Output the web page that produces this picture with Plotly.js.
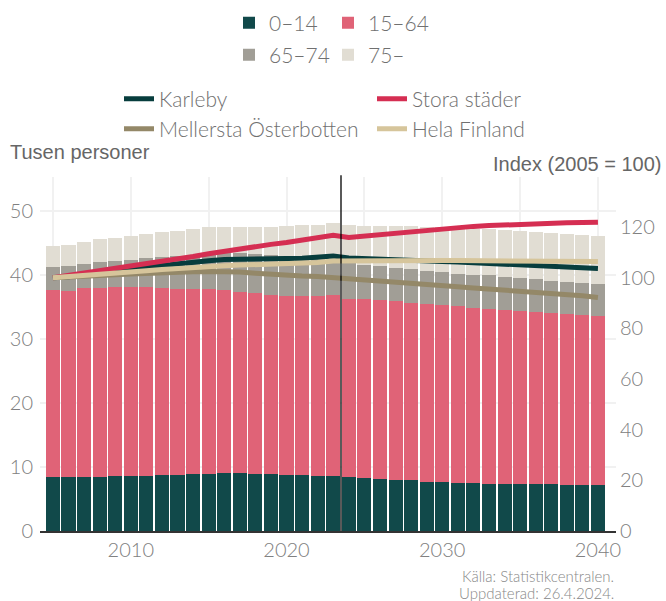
<!DOCTYPE html>
<html>
<head>
<meta charset="utf-8">
<script src="https://cdn.plot.ly/plotly-3.0.1.min.js"></script>
<style>html,body{margin:0;padding:0;background:#fff;}#chart{width:666px;height:601px;}</style>
</head>
<body>
<div id="chart"></div>
<script>
const years = [2005,2006,2007,2008,2009,2010,2011,2012,2013,2014,2015,2016,2017,2018,2019,2020,2021,2022,2023,2024,2025,2026,2027,2028,2029,2030,2031,2032,2033,2034,2035,2036,2037,2038,2039,2040];

// Population by age group, thousands
const age0_14 = [8.46,8.46,8.46,8.46,8.62,8.62,8.62,8.78,8.78,8.93,8.93,9.09,9.09,8.93,8.93,8.78,8.78,8.62,8.62,8.46,8.31,8.15,7.99,7.99,7.68,7.68,7.52,7.52,7.37,7.37,7.37,7.37,7.37,7.21,7.21,7.21];
const age15_64 = [29.24,29.04,29.54,29.54,29.48,29.48,29.48,29.22,29.02,28.87,28.87,28.61,28.31,28.27,27.97,27.92,27.92,28.08,28.28,27.84,27.99,27.95,27.91,27.61,27.82,27.62,27.68,27.28,27.33,27.13,27.03,26.83,26.73,26.69,26.54,26.39];
const age65_74 = [3.6,3.9,3.7,4.0,4.1,4.2,4.6,4.8,5.2,5.3,5.5,5.7,6.1,6.1,6.2,6.2,6.0,5.9,5.5,5.6,5.3,5.25,5.2,5.3,5.1,5.2,5.0,5.2,5.3,5.2,5.1,5.2,5.0,5.0,5.0,5.0];
const age75 = [3.2,3.3,3.5,3.6,3.6,3.8,3.7,3.9,3.9,4.1,4.2,4.1,4.0,4.2,4.4,4.8,5.1,5.2,5.7,5.9,6.1,6.35,6.6,6.8,6.9,7.0,7.1,7.2,7.2,7.3,7.4,7.3,7.5,7.5,7.55,7.5];

// Index (2005 = 100)
const karleby = [100,100.4,101.4,102.3,102.9,103.6,104.3,104.9,105.5,106.1,106.7,107.2,107.4,107.5,107.5,107.6,107.7,108.0,108.6,107.8,107.5,107.2,107.0,106.8,106.6,106.4,106.2,105.9,105.6,105.3,105.0,104.7,104.4,104.2,104.0,103.7];
const storaStader = [100,100.9,101.8,102.7,103.6,104.5,105.5,106.5,107.4,108.4,109.5,110.5,111.6,112.5,113.2,113.9,114.8,116.0,116.8,115.9,116.5,117.1,117.7,118.3,118.8,119.3,119.8,120.3,120.6,120.9,121.2,121.4,121.6,121.7,121.8,121.9];
const mellersta = [100,100.2,100.5,100.9,101.2,101.5,101.8,102.0,102.2,102.4,102.5,102.5,102.3,101.8,101.3,100.9,100.7,100.5,100.1,99.3,98.9,98.5,98.1,97.7,97.3,96.9,96.5,96.0,95.6,95.2,94.7,94.3,93.8,93.4,92.9,92.2];
const helaFinland = [100,100.4,100.9,101.4,101.9,102.3,102.8,103.3,103.8,104.1,104.4,104.8,105.0,105.2,105.3,105.4,105.6,106.0,106.6,106.7,106.8,106.8,106.8,106.8,106.8,106.8,106.8,106.8,106.8,106.7,106.7,106.6,106.6,106.5,106.5,106.4];

const barNames = ['0–14','15–64','65–74','75–'];
const lineNames = ['Karleby','Stora städer','Mellersta Österbotten','Hela Finland'];
const projectionStart = 2023.5;

const barColors = ['#11494a','#e06377','#a19e96','#e1ddd3'];
const lineColors = ['#073d3d','#d52e52','#948868','#d6c59b'];
const barLegends = ['legend','legend2','legend3','legend4'];
const lineLegends = ['legend5','legend6','legend7','legend8'];

const barSeries = [age0_14, age15_64, age65_74, age75];
const lineSeries = [karleby, storaStader, mellersta, helaFinland];

const traces = [];
barSeries.forEach((s,i)=>{
  traces.push({type:'bar', x:years, y:s, name:barNames[i], marker:{color:barColors[i], line:{width:0}}, legend:barLegends[i], hoverinfo:'skip'});
});
lineSeries.forEach((s,i)=>{
  traces.push({type:'scatter', mode:'lines', x:years, y:s, yaxis:'y2', name:lineNames[i], line:{color:lineColors[i], width:5}, legend:lineLegends[i], hoverinfo:'skip'});
});

const FONT = 'Lato, "Open Sans", sans-serif';
function leg(xpx, ypx){
  return {orientation:'h', xref:'container', yref:'container', xanchor:'left', yanchor:'middle', traceorder:'normal',
    x:xpx/666, y:1-ypx/601, font:{family:FONT, size:21, color:'#707070', weight:300}, bgcolor:'rgba(0,0,0,0)', borderwidth:0};
}
const tickFont = {family:FONT, size:20, color:'#808080', weight:300};

const layout = {
  width:666, height:601,
  margin:{l:40, r:50, t:177, b:70},
  paper_bgcolor:'#fff', plot_bgcolor:'#fff',
  barmode:'stack', bargap:0.1,
  showlegend:true,
  legend: leg(229, 23),
  legend2: leg(328, 23),
  legend3: leg(229, 55),
  legend4: leg(328, 55),
  legend5: leg(119, 99),
  legend6: leg(372, 99),
  legend7: leg(119, 129),
  legend8: leg(372, 129),
  xaxis:{range:[2004.17, 2041.16], tick0:2000, dtick:10, showgrid:true, gridcolor:'#f1f1f1', gridwidth:2,
    minor:{dtick:5, tick0:2000, showgrid:true, gridcolor:'#f1f1f1', gridwidth:2},
    showline:true, linecolor:'#333', linewidth:2, ticks:'', zeroline:false,
    tickfont:tickFont, fixedrange:true},
  yaxis:{range:[0,55.3], dtick:10, showgrid:true, gridcolor:'#f1f1f1', gridwidth:2, zeroline:false, ticklabelstandoff:6,
    ticks:'', tickfont:tickFont, fixedrange:true},
  yaxis2:{range:[0,139.8], dtick:20, overlaying:'y', side:'right', showgrid:false, zeroline:false, ticklabelstandoff:3,
    ticks:'', tickfont:tickFont, fixedrange:true},
  shapes:[{type:'line', xref:'x', yref:'paper', x0:projectionStart, x1:projectionStart, y0:0, y1:1.005, line:{color:'#000', width:1.3}}],
  annotations:[
    {text:'Tusen personer', xref:'paper', yref:'paper', x:-0.0556, y:1.0706, xanchor:'left', yanchor:'middle', showarrow:false,
      font:{family:'"Liberation Sans", Arial, sans-serif', size:20, color:'#666'}},
    {text:'Index (2005 = 100)', xref:'paper', yref:'paper', x:1.0816, y:1.0367, xanchor:'right', yanchor:'middle', showarrow:false,
      font:{family:'"Liberation Sans", Arial, sans-serif', size:20, color:'#666'}},
    {text:'Källa: Statistikcentralen.', xref:'paper', yref:'paper', x:1, y:-0.127, xanchor:'right', yanchor:'middle', showarrow:false,
      font:{family:FONT, size:15, color:'#888', weight:300}},
    {text:'Uppdaterad: 26.4.2024.', xref:'paper', yref:'paper', x:1, y:-0.175, xanchor:'right', yanchor:'middle', showarrow:false,
      font:{family:FONT, size:15, color:'#888', weight:300}}
  ]
};

Plotly.newPlot('chart', traces, layout, {displayModeBar:false, staticPlot:true});
</script>
</body>
</html>
